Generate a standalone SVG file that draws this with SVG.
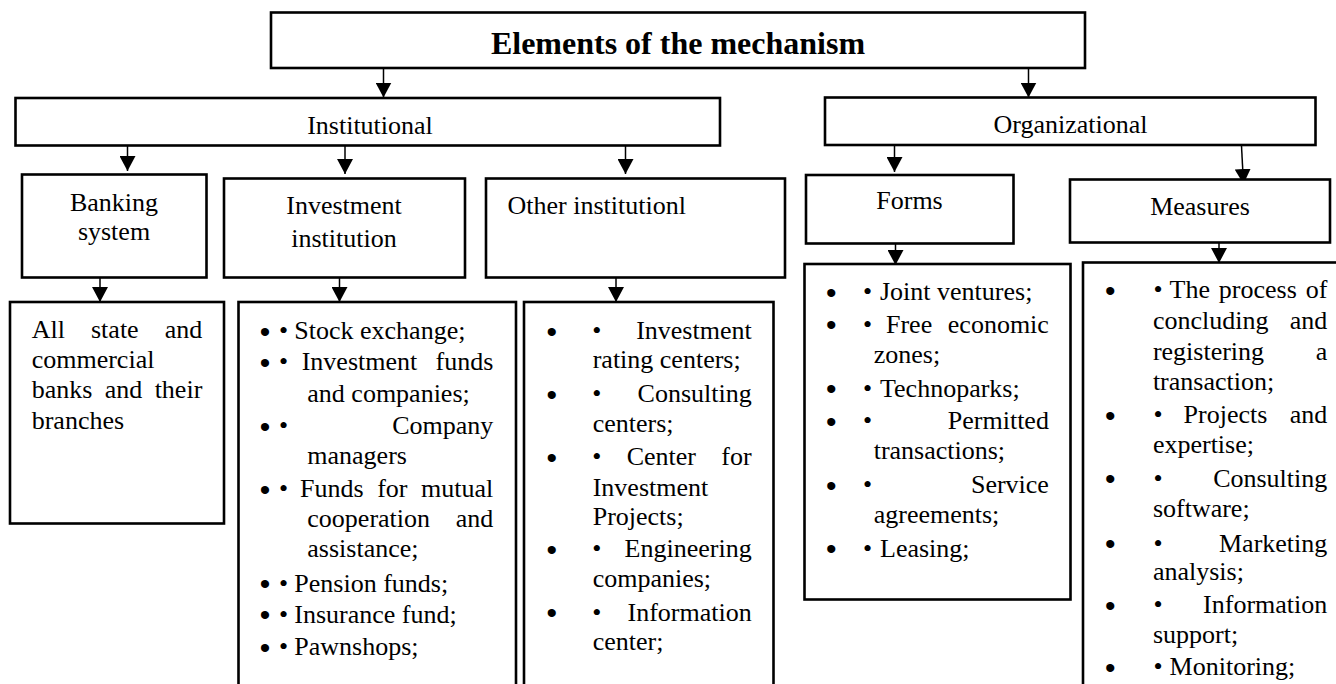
<svg xmlns="http://www.w3.org/2000/svg" width="1336" height="684" viewBox="0 0 1336 684">
  <defs>
    <marker id="head" markerUnits="userSpaceOnUse" markerWidth="16" markerHeight="16" refX="15" refY="8" orient="auto">
      <path d="M0,0 L15,8 L0,16 Z" fill="#000"/>
    </marker>
    <style>
      .box { fill: #fff; stroke: #000; stroke-width: 2.6; }
      .arrow { stroke: #000; stroke-width: 1.5; fill: none; marker-end: url(#head); }
      .t { font-family: "Liberation Serif", "Times New Roman", serif; font-size: 26px; fill: #000; }
      .title { font-family: "Liberation Serif", "Times New Roman", serif; font-size: 32px; font-weight: bold; fill: #000; }
      .c { text-anchor: middle; }
      .r { text-anchor: end; }
      .big { font-family: "Liberation Sans", Arial, sans-serif; font-size: 30px; text-anchor: middle; fill: #000; }
      .sm { text-anchor: middle; }
    </style>
  </defs>

  <rect width="1336" height="684" fill="#fff"/>

  <!-- connectors -->
  <g id="connectors">
    <line class="arrow" x1="383.5" y1="68" x2="383.5" y2="97.5"/>
    <line class="arrow" x1="1028.5" y1="68" x2="1028.5" y2="97.5"/>
    <line class="arrow" x1="127.5" y1="146" x2="127.5" y2="171"/>
    <line class="arrow" x1="345" y1="146" x2="345" y2="174"/>
    <line class="arrow" x1="625.5" y1="146" x2="625.5" y2="174"/>
    <line class="arrow" x1="100" y1="278" x2="100" y2="302"/>
    <line class="arrow" x1="339.5" y1="278" x2="339.5" y2="302"/>
    <line class="arrow" x1="616" y1="278" x2="616" y2="302"/>
    <line class="arrow" x1="894.5" y1="146" x2="894.5" y2="172"/>
    <line class="arrow" x1="1241.5" y1="146" x2="1243.5" y2="184"/>
    <line class="arrow" x1="895.5" y1="244" x2="895.5" y2="265"/>
    <line class="arrow" x1="1219" y1="243" x2="1219" y2="263"/>
  </g>

  <!-- top node -->
  <g id="mechanism">
    <rect class="box" x="271" y="12.5" width="814" height="55.5"/>
    <text class="title c" x="678" y="53.5">Elements of the mechanism</text>
  </g>

  <!-- second level -->
  <g id="institutional">
    <rect class="box" x="15.5" y="98" width="704.5" height="47.5"/>
    <text class="t c" x="370" y="133.5">Institutional</text>
  </g>
  <g id="organizational">
    <rect class="box" x="825" y="97.5" width="490.5" height="47.5"/>
    <text class="t c" x="1070.5" y="133">Organizational</text>
  </g>

  <!-- third level -->
  <g id="banking-system">
    <rect class="box" x="22" y="174.5" width="184.5" height="103"/>
    <text class="t c" x="114" y="210.5">Banking</text>
    <text class="t c" x="114" y="240">system</text>
  </g>
  <g id="investment-institution">
    <rect class="box" x="224" y="178.5" width="241" height="99"/>
    <text class="t c" x="344" y="214">Investment</text>
    <text class="t c" x="344" y="246.5">institution</text>
  </g>
  <g id="other-institutions">
    <rect class="box" x="486" y="178.5" width="299" height="99"/>
    <text class="t" x="507.5" y="214">Other institutionl</text>
  </g>
  <g id="forms">
    <rect class="box" x="806" y="175" width="207.5" height="68.5"/>
    <text class="t c" x="909.5" y="208.5">Forms</text>
  </g>
  <g id="measures">
    <rect class="box" x="1070" y="179.5" width="260" height="63"/>
    <text class="t c" x="1200" y="215">Measures</text>
  </g>

  <!-- lists -->
  <g id="banks-list">
    <rect class="box" x="10" y="302" width="214" height="221.5"/>
    <text class="t" x="31.7" y="337.5">All</text>
    <text class="t" x="91" y="337.5">state</text>
    <text class="t r" x="202.3" y="337.5">and</text>
    <text class="t" x="31.7" y="367.5">commercial</text>
    <text class="t" x="31.7" y="398">banks</text>
    <text class="t" x="104.8" y="398">and</text>
    <text class="t r" x="202.3" y="398">their</text>
    <text class="t" x="31.7" y="428.5">branches</text>
  </g>

  <g id="investment-list">
    <rect class="box" x="238.5" y="302" width="277.5" height="400"/>
    <text class="big" x="265" y="342">•</text>
    <text class="t sm" x="283.5" y="339.3">•</text>
    <text class="t" x="294.3" y="339.3">Stock exchange;</text>

    <text class="big" x="265" y="372.7">•</text>
    <text class="t sm" x="283.5" y="370">•</text>
    <text class="t" x="301.7" y="370">Investment</text>
    <text class="t r" x="493.3" y="370">funds</text>
    <text class="t" x="307.3" y="401.7">and companies;</text>

    <text class="big" x="265" y="437">•</text>
    <text class="t sm" x="283.5" y="434.3">•</text>
    <text class="t r" x="493.3" y="434.3">Company</text>
    <text class="t" x="307.3" y="463.5">managers</text>

    <text class="big" x="265" y="500">•</text>
    <text class="t sm" x="283.5" y="497.3">•</text>
    <text class="t" x="300" y="497.3">Funds</text>
    <text class="t" x="377.2" y="497.3">for</text>
    <text class="t r" x="493.3" y="497.3">mutual</text>
    <text class="t" x="307.3" y="527.3">cooperation</text>
    <text class="t r" x="493.3" y="527.3">and</text>
    <text class="t" x="307.3" y="556.7">assistance;</text>

    <text class="big" x="265" y="594.4">•</text>
    <text class="t sm" x="283.5" y="591.7">•</text>
    <text class="t" x="294.3" y="591.7">Pension funds;</text>

    <text class="big" x="265" y="625.4">•</text>
    <text class="t sm" x="283.5" y="622.7">•</text>
    <text class="t" x="294.3" y="622.7">Insurance fund;</text>

    <text class="big" x="265" y="657.7">•</text>
    <text class="t sm" x="283.5" y="655">•</text>
    <text class="t" x="294.3" y="655">Pawnshops;</text>
  </g>

  <g id="other-list">
    <rect class="box" x="524" y="302" width="249.5" height="400"/>
    <text class="big" x="551.7" y="342">•</text>
    <text class="t sm" x="596.7" y="339.3">•</text>
    <text class="t r" x="751.7" y="339.3">Investment</text>
    <text class="t" x="592.7" y="368.3">rating centers;</text>

    <text class="big" x="551.7" y="405">•</text>
    <text class="t sm" x="596.7" y="402.3">•</text>
    <text class="t r" x="751.7" y="402.3">Consulting</text>
    <text class="t" x="592.7" y="431.7">centers;</text>

    <text class="big" x="551.7" y="467.7">•</text>
    <text class="t sm" x="596.7" y="465">•</text>
    <text class="t" x="626.7" y="465">Center</text>
    <text class="t r" x="751.7" y="465">for</text>
    <text class="t" x="592.7" y="496">Investment</text>
    <text class="t" x="592.7" y="525">Projects;</text>

    <text class="big" x="551.7" y="560">•</text>
    <text class="t sm" x="596.7" y="557.3">•</text>
    <text class="t r" x="751.7" y="557.3">Engineering</text>
    <text class="t" x="592.7" y="586.7">companies;</text>

    <text class="big" x="551.7" y="623.4">•</text>
    <text class="t sm" x="596.7" y="620.7">•</text>
    <text class="t r" x="751.7" y="620.7">Information</text>
    <text class="t" x="592.7" y="650">center;</text>
  </g>

  <g id="forms-list">
    <rect class="box" x="804.5" y="264" width="266" height="335.5"/>
    <text class="big" x="831.2" y="302.7">•</text>
    <text class="t sm" x="867.5" y="300">•</text>
    <text class="t" x="880" y="300">Joint ventures;</text>

    <text class="big" x="831.2" y="335.4">•</text>
    <text class="t sm" x="867.5" y="332.7">•</text>
    <text class="t" x="886" y="332.7">Free</text>
    <text class="t r" x="1048.9" y="332.7">economic</text>
    <text class="t" x="873.7" y="363.3">zones;</text>

    <text class="big" x="831.2" y="399.4">•</text>
    <text class="t sm" x="867.5" y="396.7">•</text>
    <text class="t" x="880" y="396.7">Technoparks;</text>

    <text class="big" x="831.2" y="431.7">•</text>
    <text class="t sm" x="867.5" y="429">•</text>
    <text class="t r" x="1048.9" y="429">Permitted</text>
    <text class="t" x="873.7" y="459.3">transactions;</text>

    <text class="big" x="831.2" y="496">•</text>
    <text class="t sm" x="867.5" y="493.3">•</text>
    <text class="t r" x="1048.9" y="493.3">Service</text>
    <text class="t" x="873.7" y="523.3">agreements;</text>

    <text class="big" x="831.2" y="559.4">•</text>
    <text class="t sm" x="867.5" y="556.7">•</text>
    <text class="t" x="880" y="556.7">Leasing;</text>
  </g>

  <g id="measures-list">
    <rect class="box" x="1083" y="262.5" width="270" height="440"/>
    <text class="big" x="1110.3" y="301">•</text>
    <text class="t sm" x="1158" y="298.3">•</text>
    <text class="t" x="1169.6" y="298.3">The</text>
    <text class="t" x="1218.8" y="298.3">process</text>
    <text class="t r" x="1327.3" y="298.3">of</text>
    <text class="t" x="1152.9" y="329.3">concluding</text>
    <text class="t r" x="1327.3" y="329.3">and</text>
    <text class="t" x="1152.9" y="360">registering</text>
    <text class="t r" x="1327.3" y="360">a</text>
    <text class="t" x="1152.9" y="390">transaction;</text>

    <text class="big" x="1110.3" y="426">•</text>
    <text class="t sm" x="1158" y="423.3">•</text>
    <text class="t" x="1183.6" y="423.3">Projects</text>
    <text class="t r" x="1327.3" y="423.3">and</text>
    <text class="t" x="1152.9" y="452.7">expertise;</text>

    <text class="big" x="1110.3" y="489.4">•</text>
    <text class="t sm" x="1158" y="486.7">•</text>
    <text class="t r" x="1327.3" y="486.7">Consulting</text>
    <text class="t" x="1152.9" y="516.7">software;</text>

    <text class="big" x="1110.3" y="554.4">•</text>
    <text class="t sm" x="1158" y="551.7">•</text>
    <text class="t r" x="1327.3" y="551.7">Marketing</text>
    <text class="t" x="1152.9" y="580">analysis;</text>

    <text class="big" x="1110.3" y="616">•</text>
    <text class="t sm" x="1158" y="613.3">•</text>
    <text class="t r" x="1327.3" y="613.3">Information</text>
    <text class="t" x="1152.9" y="643.3">support;</text>

    <text class="big" x="1110.3" y="677.7">•</text>
    <text class="t sm" x="1158" y="675">•</text>
    <text class="t" x="1169.6" y="675">Monitoring;</text>
  </g>
</svg>
